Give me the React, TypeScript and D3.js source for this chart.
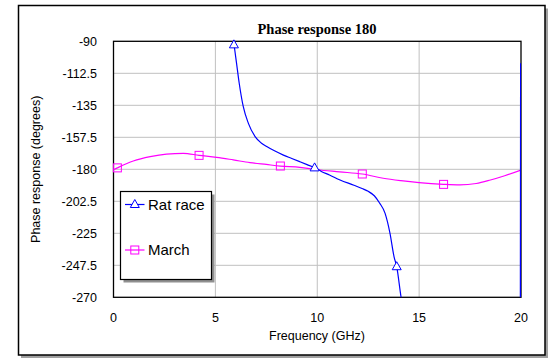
import React from 'react';
import * as d3 from 'd3';

// Rat race phase (GHz, degrees); values outside -90..-270 are clipped by the plot
const ratFreq = [5.85, 5.91, 6.04, 6.17, 6.37, 6.62, 6.95, 7.25, 7.52, 7.9, 8.34, 8.75, 9.15, 9.5, 9.87, 10.2, 10.6, 11.12, 11.8, 12.2, 12.5, 12.8, 13.05, 13.33, 13.57, 13.77, 13.9, 14.11, 14.3, 19.97, 20];
const ratPhase = [-84, -91.4, -105.5, -119.5, -136, -147.7, -157, -161.5, -164, -167, -170, -172.4, -174.7, -176.7, -178.8, -181.5, -184, -187.5, -191.2, -193.5, -195.5, -198.6, -203.5, -211, -225, -241.5, -248.5, -269.6, -285, -520, -105.5];
const ratMarkers = [5.91, 9.87, 13.9];
const ratMarkerPhase = [-92.5, -179, -248.5];

const marchFreq = [0, 0.19, 0.97, 1.8, 2.6, 3.43, 4.2, 5.06, 5.88, 6.7, 7.5, 8.19, 9.15, 10, 11.1, 12.21, 13.24, 14.1, 15.0, 16.2, 17.0, 17.8, 18.5, 19.2, 20];
const marchPhase = [-180.3, -179, -174.2, -171.1, -169.3, -168.8, -170.2, -171.6, -173.4, -175.3, -176.6, -177.7, -178.6, -180.3, -181.8, -183.3, -186.3, -188, -189.4, -190.6, -191, -190, -187.5, -184.5, -180.5];
const marchMarkers = [0.19, 4.2, 8.19, 12.21, 16.2];

const xTicks = [0, 5, 10, 15, 20];
const yTicks = [-90, -112.5, -135, -157.5, -180, -202.5, -225, -247.5, -270];
const seriesNames = ['Rat race', 'March'];

const W = 554, H = 362;
const plot = { left: 113.5, right: 521, top: 41.3, bottom: 297.3 };

export default function App() {
  const x = d3.scaleLinear().domain([0, 20]).range([plot.left, plot.right]);
  const y = d3.scaleLinear().domain([-90, -270]).range([plot.top, plot.bottom]);

  const ratPts: [number, number][] = ratFreq.map((f, i) => [f, ratPhase[i]]);
  const marchPts: [number, number][] = marchFreq.map((f, i) => [f, marchPhase[i]]);
  const line = d3.line<[number, number]>().x(d => x(d[0])).y(d => y(d[1])).curve(d3.curveMonotoneX);
  const lineLin = d3.line<[number, number]>().x(d => x(d[0])).y(d => y(d[1]));

  const interp = (fs: number[], ps: number[], f: number) => {
    for (let i = 1; i < fs.length; i++) {
      if (f <= fs[i]) {
        const t = (f - fs[i - 1]) / (fs[i] - fs[i - 1]);
        return ps[i - 1] + t * (ps[i] - ps[i - 1]);
      }
    }
    return ps[ps.length - 1];
  };

  const tri = (cx: number, cy: number, k: string) => (
    <path key={k} d={`M${cx},${cy - 5}L${cx - 4.5},${cy + 3}L${cx + 4.5},${cy + 3}Z`} fill="white" stroke="#0000ff" strokeWidth={1} />
  );
  const sq = (cx: number, cy: number, k: string) => (
    <rect key={k} x={cx - 4} y={cy - 4} width={8} height={8} fill="none" stroke="#ff00ff" strokeWidth={1} />
  );

  const ratMain = ratPts.slice(0, ratPts.length - 2);
  const ratTail = ratPts.slice(ratPts.length - 3);

  const lg = { x: 120.5, y: 191.5, w: 91, h: 88 };

  return (
    <svg width={W} height={H} style={{ position: 'absolute', left: 0, top: 0 }} fontFamily="Arial, 'Liberation Sans', sans-serif">
      <defs>
        <clipPath id="plotclip">
          <rect x={plot.left} y={plot.top} width={plot.right - plot.left} height={plot.bottom - plot.top} />
        </clipPath>
      </defs>
      <rect x={0} y={0} width={W} height={H} fill="white" />
      {/* outer frame with shadow */}
      <rect x={21} y={8.5} width={527} height={349.5} fill="#a0a0a0" />
      <rect x={18.5} y={5.5} width={526.5} height={349.5} fill="white" stroke="black" strokeWidth={1.5} />

      <text x={317} y={34} textAnchor="middle" fontFamily="'Liberation Serif', 'Times New Roman', serif" fontWeight="bold" fontSize={14.5}>Phase response 180</text>

      {/* grid */}
      {xTicks.slice(1, -1).map(t => (
        <line key={'gx' + t} x1={x(t)} x2={x(t)} y1={plot.top} y2={plot.bottom} stroke="#c0c0c0" strokeWidth={1} />
      ))}
      {yTicks.slice(1, -1).map(t => (
        <line key={'gy' + t} x1={plot.left} x2={plot.right} y1={y(t)} y2={y(t)} stroke="#c0c0c0" strokeWidth={1} />
      ))}

      <rect x={plot.left} y={plot.top} width={plot.right - plot.left} height={plot.bottom - plot.top} fill="none" stroke="black" strokeWidth={1.3} />

      <g clipPath="url(#plotclip)">
        <path d={line(marchPts) || ''} fill="none" stroke="#ff00ff" strokeWidth={1.2} />
        <path d={line(ratMain) || ''} fill="none" stroke="#0000ff" strokeWidth={1.2} />
        <path d={lineLin(ratTail) || ''} fill="none" stroke="#0000ff" strokeWidth={2} />
      </g>
      {marchMarkers.map((f, i) => sq(x(f), y(interp(marchFreq, marchPhase, f)), 'm' + i))}
      {ratMarkers.map((f, i) => tri(x(f), y(ratMarkerPhase[i]), 'r' + i))}

      {/* tick labels */}
      {yTicks.map(t => (
        <text key={'yl' + t} x={97} y={y(t) + 4.5} textAnchor="end" fontSize={12.5}>{t}</text>
      ))}
      {xTicks.map(t => (
        <text key={'xl' + t} x={x(t)} y={322} textAnchor="middle" fontSize={12.5}>{t}</text>
      ))}
      <text x={317} y={339.5} textAnchor="middle" fontSize={12.5}>Frequency (GHz)</text>
      <text transform={`translate(40,${(plot.top + plot.bottom) / 2}) rotate(-90)`} textAnchor="middle" fontSize={12.5}>Phase response (degrees)</text>

      {/* legend */}
      <rect x={lg.x + 3} y={lg.y + 3} width={lg.w} height={lg.h} fill="#909090" />
      <rect x={lg.x} y={lg.y} width={lg.w} height={lg.h} fill="white" stroke="black" strokeWidth={1.2} />
      <line x1={125} x2={144.5} y1={204.5} y2={204.5} stroke="#0000ff" strokeWidth={1.2} />
      {tri(134.8, 204.5, 'lt')}
      <text x={148} y={209.5} fontSize={15}>{seriesNames[0]}</text>
      <line x1={125} x2={144.5} y1={250} y2={250} stroke="#ff00ff" strokeWidth={1.2} />
      {sq(134.8, 250, 'ls')}
      <text x={148} y={255} fontSize={15}>{seriesNames[1]}</text>
    </svg>
  );
}
